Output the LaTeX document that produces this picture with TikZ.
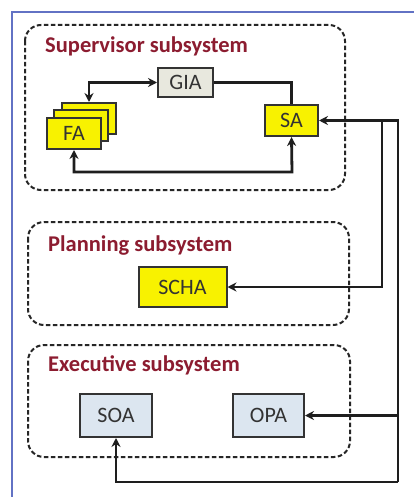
\documentclass[tikz,border=0pt]{standalone}
\usepackage{fontspec}
\setmainfont{Carlito}
\usetikzlibrary{arrows.meta}
\definecolor{titlered}{HTML}{8C1C30}
\definecolor{frameblue}{HTML}{6272C4}
\definecolor{boxyellow}{HTML}{F8F200}
\definecolor{boxgray}{HTML}{E8E8DE}
\definecolor{boxblue}{HTML}{DCE6F0}
\definecolor{edgegray}{HTML}{333333}
\definecolor{linedark}{HTML}{1E1E1E}
\tikzset{
  agent/.style={draw=edgegray, line width=2pt, inner sep=0pt, font=\fontsize{22}{24}\selectfont, text=black!80},
  yagent/.style={agent, fill=boxyellow},
  gagent/.style={agent, fill=boxgray},
  bagent/.style={agent, fill=boxblue},
  subsys/.style={draw=black!85, dashed, dash pattern=on 4.5pt off 2.5pt, line width=2pt, rounded corners=16pt},
  systitle/.style={anchor=base west, inner sep=0pt, text=titlered, font=\fontsize{22.5}{24}\selectfont\bfseries},
  plain/.style={draw=linedark, line width=2.8pt},
  conn/.style={plain, -{Stealth[length=9pt,width=9pt]}},
  connboth/.style={plain, {Stealth[length=9pt,width=9pt]}-{Stealth[length=9pt,width=9pt]}}
}
\begin{document}
\begin{tikzpicture}[x=1pt, y=-1pt]
\useasboundingbox (0,0) rectangle (414,497);
\fill[white] (0,0) rectangle (414,497);
% outer frame (top and left visible)
\draw[frameblue, line width=2.5pt] (12,497) -- (12,12) -- (414,12);

% subsystem frames
\draw[subsys] (25,25) rectangle (345,190);
\draw[subsys] (28,222) rectangle (349,325);
\draw[subsys] (28,345) rectangle (350,457);
\node[systitle] (tsup) at (45,53) {Supervisor subsystem};
\node[systitle] (tplan) at (48,251.5) {Planning subsystem};
\node[systitle] (texec) at (48,371) {Executive subsystem};

% agents
\node[gagent, minimum width=55pt, minimum height=29pt] (GIA) at (185.5,82.5) {GIA};
\node[yagent, minimum width=54pt, minimum height=31pt] (FAback) at (89,118.5) {};
\node[yagent, minimum width=54pt, minimum height=31pt] (FAmid) at (81,126) {};
\node[yagent, minimum width=54pt, minimum height=31pt] (FA) at (74,133.5) {FA};
\node[yagent, minimum width=53pt, minimum height=31pt] (SA) at (291.5,120.5) {SA};
\node[yagent, minimum width=88pt, minimum height=40pt] (SCHA) at (182.5,287) {SCHA};
\node[bagent, minimum width=72pt, minimum height=43pt] (SOA) at (116,415.5) {SOA};
\node[bagent, minimum width=71pt, minimum height=43pt] (OPA) at (268.5,415.5) {OPA};

% junction coordinates
\coordinate (j1) at (382,120.5);
\coordinate (j2) at (398,120.5);
\coordinate (j3) at (398,415.5);
\coordinate (j4) at (398,482);
\coordinate (b1) at (292,172);

% supervisor connections
\draw[connboth] (FAback.north) |- (GIA.west);
\draw[plain] (GIA.east) -| (SA.north);
\draw[connboth] (FA.south) |- (b1) -- (SA.south);

% bus
\draw[conn] (j4) -- (j2) -- (SA.east);
\draw[conn] (j4) -| (SOA.south);
\draw[conn] (j1) |- (SCHA.east);
\draw[conn] (j3) -- (OPA.east);
\end{tikzpicture}
\end{document}
